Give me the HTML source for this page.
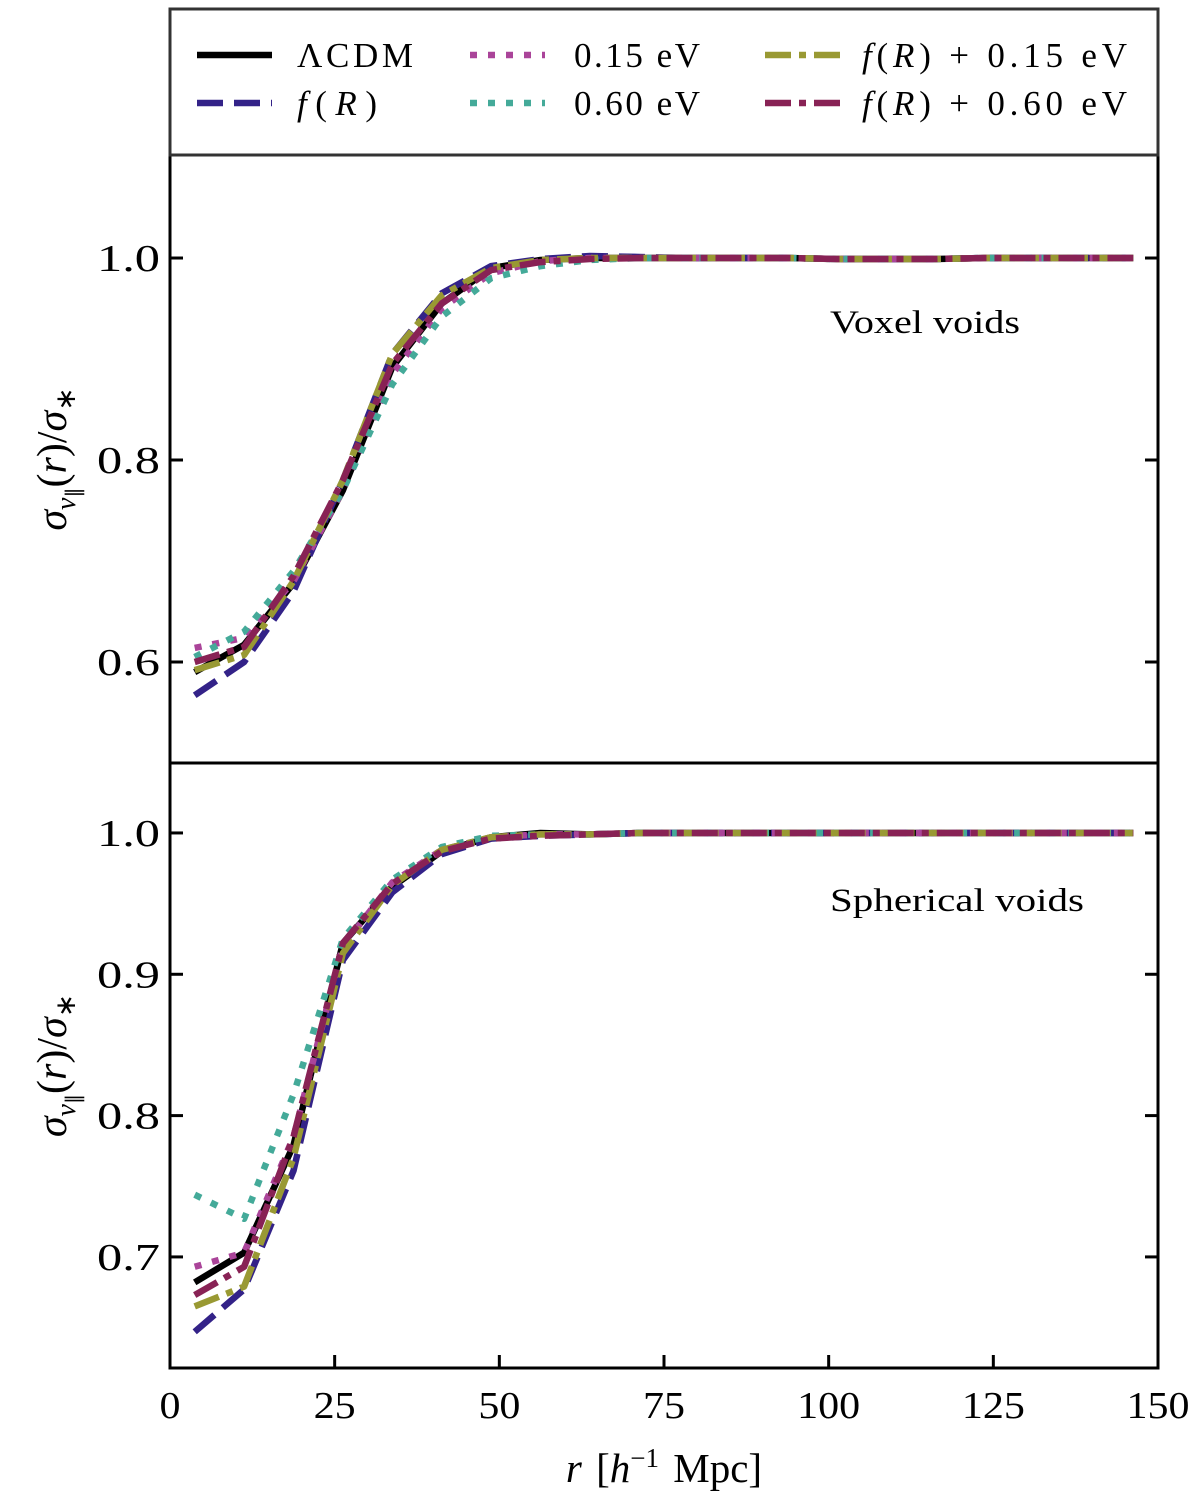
<!DOCTYPE html>
<html><head><meta charset="utf-8"><style>
html,body{margin:0;padding:0;background:#fff;}
svg{display:block;font-family:"Liberation Serif",serif;}
</style></head><body>
<svg id="chart" width="1200" height="1510" viewBox="0 0 1200 1510" xmlns="http://www.w3.org/2000/svg"></svg>
<script>
const rVals=[3.75,11.25,18.75,26.25,33.75,41.25,48.75,56.25,63.75,71.25,78.75,86.25,93.75,101.25,108.75,116.25,123.75,131.25,138.75,146.25];
const seriesNames=["lcdm","fr","nu015","nu060","fr015","fr060"];
const seriesLabels=["ΛCDM","f(R)","0.15 eV","0.60 eV","f(R) + 0.15 eV","f(R) + 0.60 eV"];
const seriesColors=["#000000","#332288","#AA4499","#44AA99","#999933","#882255"];
const seriesDash=["","26 11","7 11","7 11","26 8 7 8","26 8 7 8"];
// voxel voids (top)
const voxLCDM=[0.590,0.617,0.678,0.770,0.892,0.955,0.990,0.998,1.000,1.000,1.000,1.000,1.000,0.999,0.999,0.999,1.000,1.000,1.000,1.000];
const voxFR=[0.567,0.600,0.670,0.780,0.905,0.965,0.992,0.999,1.002,1.001,1.000,1.000,1.000,0.999,0.999,0.999,1.000,1.000,1.000,1.000];
const voxN015=[0.614,0.624,0.680,0.770,0.885,0.950,0.985,0.997,1.000,1.000,1.000,1.000,1.000,0.999,0.999,0.999,1.000,1.000,1.000,1.000];
const voxN060=[0.605,0.630,0.690,0.770,0.875,0.942,0.980,0.992,0.998,1.000,1.000,1.000,1.000,0.999,0.999,0.999,1.000,1.000,1.000,1.000];
const voxF015=[0.592,0.607,0.680,0.780,0.905,0.963,0.990,0.998,1.000,1.000,1.000,1.000,1.000,0.999,0.999,0.999,1.000,1.000,1.000,1.000];
const voxF060=[0.600,0.615,0.685,0.780,0.895,0.955,0.988,0.996,0.999,1.000,1.000,1.000,1.000,0.999,0.999,0.999,1.000,1.000,1.000,1.000];
// spherical voids (bottom)
const sphLCDM=[0.682,0.703,0.779,0.922,0.962,0.987,0.997,1.000,0.999,1.000,1.000,1.000,1.000,1.000,1.000,1.000,1.000,1.000,1.000,1.000];
const sphFR=[0.647,0.677,0.761,0.910,0.958,0.985,0.996,0.998,0.999,1.000,1.000,1.000,1.000,1.000,1.000,1.000,1.000,1.000,1.000,1.000];
const sphN015=[0.693,0.703,0.785,0.920,0.965,0.988,0.997,0.999,0.999,1.000,1.000,1.000,1.000,1.000,1.000,1.000,1.000,1.000,1.000,1.000];
const sphN060=[0.744,0.727,0.815,0.925,0.967,0.990,0.998,0.999,0.999,1.000,1.000,1.000,1.000,1.000,1.000,1.000,1.000,1.000,1.000,1.000];
const sphF015=[0.665,0.679,0.770,0.915,0.963,0.988,0.997,0.999,0.999,1.000,1.000,1.000,1.000,1.000,1.000,1.000,1.000,1.000,1.000,1.000];
const sphF060=[0.673,0.693,0.785,0.922,0.964,0.987,0.996,0.998,0.999,1.000,1.000,1.000,1.000,1.000,1.000,1.000,1.000,1.000,1.000,1.000];
const xTicks=[0,25,50,75,100,125,150];
const topTicks=[0.6,0.8,1.0];
const botTicks=[0.7,0.8,0.9,1.0];

const NS="http://www.w3.org/2000/svg";
const svg=document.getElementById('chart');
function mk(tag,attrs,parent){const e=document.createElementNS(NS,tag);for(const k in attrs)e.setAttribute(k,attrs[k]);(parent||svg).appendChild(e);return e;}
const X0=170,X1=1158;
const xs=v=>X0+(v-0)/(150-0)*(X1-X0);
const panels=[
 {name:"voxel",top:155,bot:763,ymin:0.5,ymax:1.102,ticks:topTicks,xt:false,data:[voxLCDM,voxFR,voxN015,voxN060,voxF015,voxF060],label:"Voxel voids",lx:830,ly:333,lw:190},
 {name:"spherical",top:763,bot:1368,ymin:0.6214,ymax:1.0495,ticks:botTicks,xt:true,data:[sphLCDM,sphFR,sphN015,sphN060,sphF015,sphF060],label:"Spherical voids",lx:830,ly:911,lw:254}
];
panels.forEach((p,pi)=>{
  const ys=v=>p.bot-(v-p.ymin)/(p.ymax-p.ymin)*(p.bot-p.top);
  const g=mk('g',{});
  
  
  [0,1,2,3,4,5].forEach(si=>{
    const d=p.data[si].map((v,i)=>(i?'L':'M')+xs(rVals[i]).toFixed(1)+','+ys(v).toFixed(1)).join(' ');
    const path=mk('path',{d:d,fill:'none',stroke:seriesColors[si],'stroke-width':6.5,'stroke-dasharray':seriesDash[si]||'none','stroke-linejoin':'round'},g);
    
    
  });
  p.ticks.forEach(t=>{
    const y=ys(t);
    mk('line',{x1:X0,x2:X0+13,y1:y,y2:y,stroke:'#000','stroke-width':3},g);
    mk('line',{x1:X1-13,x2:X1,y1:y,y2:y,stroke:'#000','stroke-width':3},g);
    const tx=mk('text',{x:160,y:y+13,'text-anchor':'end','font-size':38,textLength:63,lengthAdjust:'spacingAndGlyphs'},g);
    tx.textContent=t.toFixed(1);
    
    
  });
  if(p.xt) xTicks.forEach(t=>{
    const x=xs(t);
    mk('line',{x1:x,x2:x,y1:p.bot,y2:p.bot-13,stroke:'#000','stroke-width':3},g);
  });
  const r=mk('rect',{x:X0,y:p.top,width:X1-X0,height:p.bot-p.top,fill:'none',stroke:'#000','stroke-width':3},g);
  
  
  const lt=mk('text',{x:p.lx,y:p.ly,'font-size':33,textLength:p.lw,lengthAdjust:'spacingAndGlyphs'},g);
  lt.textContent=p.label;
  
  
  const yl=mk('text',{transform:`translate(66,${(p.top+p.bot)/2}) rotate(-90)`,'text-anchor':'middle','font-size':42},g);
  yl.innerHTML='<tspan font-style="italic">σ</tspan><tspan font-size="28" dy="9" font-style="italic">v</tspan><tspan font-size="20" dy="5">∥</tspan><tspan dy="-14">(</tspan><tspan font-style="italic">r</tspan>)/<tspan font-style="italic">σ</tspan><tspan font-size="28" dy="9">∗</tspan>';
  
  
});
xTicks.forEach(t=>{
  const s=String(t);
  const tx=mk('text',{x:xs(t),y:1418,'text-anchor':'middle','font-size':38,textLength:s.length*21,lengthAdjust:'spacingAndGlyphs'});
  tx.textContent=s;
  
  
});
const xl=mk('text',{x:664,y:1482,'text-anchor':'middle','font-size':41,'word-spacing':'4'});
xl.innerHTML='<tspan font-style="italic">r</tspan> [<tspan font-style="italic">h</tspan><tspan font-size="27" dy="-15">−1</tspan><tspan dy="15"> Mpc]</tspan>';


// legend
const lg=mk('g',{});


mk('rect',{x:170,y:9,width:988,height:146,fill:'#fff',stroke:'#333','stroke-width':3},lg);
const lpos=[[197,55,297,116],[197,103,297,80],[470,55,574,126],[470,103,574,126],[765,55,862,265],[765,103,862,265]];
seriesNames.forEach((n,i)=>{
  const [lx,ly,tx,tw]=lpos[i];
  const e=mk('g',{},lg);
  
  
  mk('line',{x1:lx,x2:lx+75,y1:ly,y2:ly,stroke:seriesColors[i],'stroke-width':6.5,'stroke-dasharray':seriesDash[i]||'none'},e);
  const t=mk('text',{x:tx,y:ly+12,'font-size':35,textLength:tw,lengthAdjust:'spacing'},e);
  t.innerHTML=seriesLabels[i].replace(/f\(R\)/,'<tspan font-style="italic">f</tspan>(<tspan font-style="italic">R</tspan>)');
});
</script>
</body></html>
